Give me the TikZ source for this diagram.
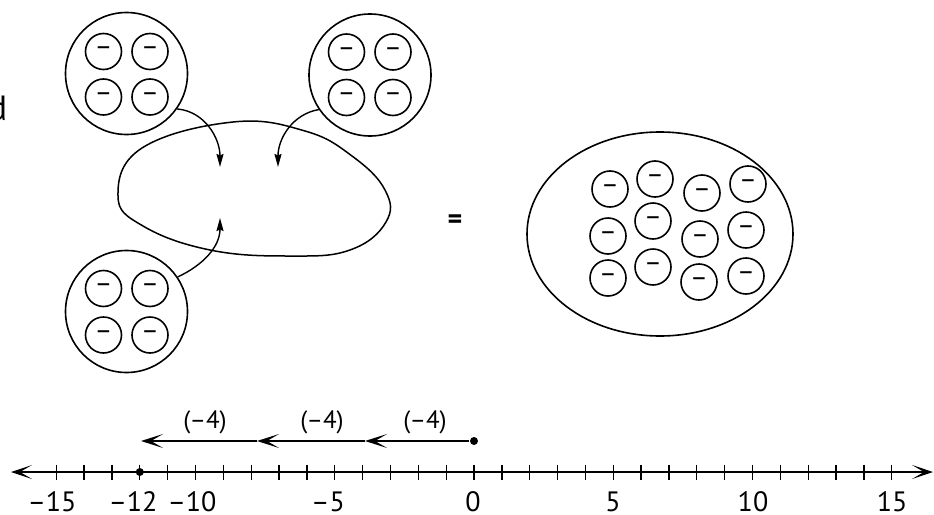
\documentclass[tikz,border=0pt]{standalone}
\usepackage{fontspec}
\setmainfont{PT Sans}
\usetikzlibrary{arrows.meta,shapes.geometric}
\begin{document}
\begin{tikzpicture}[x=1pt,y=-1pt,line width=1.6pt,
  group/.style={circle,draw,minimum size=122pt,inner sep=0pt},
  neg/.style={circle,draw,minimum size=36pt,inner sep=0pt,font=\fontsize{27}{27}\selectfont},
  carrow/.style={-{Stealth[length=13pt,width=7pt,inset=1.5pt]},line width=1.4pt},
  narrow/.style={-{Stealth[length=22pt,width=14pt,inset=12pt]},line width=1.8pt},
  nline/.style={{Stealth[length=21pt,width=14pt,inset=12pt]}-{Stealth[length=21pt,width=14pt,inset=12pt]},line width=1.6pt},
  dot/.style={circle,fill,inner sep=0pt,minimum size=8pt},
  lab/.style={font=\fontsize{28}{28}\selectfont,anchor=base,inner sep=0pt},
  steplab/.style={font=\fontsize{25}{25}\selectfont,anchor=base,inner sep=0pt},
  tick/.style={line width=1.3pt}]
\useasboundingbox (0,0) rectangle (934,514);

% left cut-off letter
\node[font=\fontsize{35}{35}\selectfont,anchor=base east,inner sep=0pt] (d) at (8,120) {d};

% top-left group
\node[group] (tl) at (126.5,73.5) {};
\node[neg] (tla) at (103.5,51.5) {–};
\node[neg] (tlb) at (150,51.5) {–};
\node[neg] (tlc) at (103.5,97) {–};
\node[neg] (tld) at (150,97) {–};

% top-right group
\node[group] (tr) at (370,75) {};
\node[neg] (tra) at (346.5,52) {–};
\node[neg] (trb) at (393,52) {–};
\node[neg] (trc) at (346.5,97.5) {–};
\node[neg] (trd) at (393,97.5) {–};

% bottom-left group
\node[group] (bl) at (126.5,311.5) {};
\node[neg] (bla) at (103.5,288.5) {–};
\node[neg] (blb) at (150,288.5) {–};
\node[neg] (blc) at (103.5,335) {–};
\node[neg] (bld) at (150,335) {–};

% blob
\draw[line width=1.5pt] plot[smooth cycle,tension=0.7] coordinates
 {(118,196) (142,148) (233,122) (305,131) (352,156) (385,190) (386,222) (350,250) (290,256) (210,250) (143,226)};

% curved arrows
\coordinate (t1) at (220,167);
\coordinate (t2) at (278,167);
\coordinate (t3) at (220,218);
\draw[carrow] (tl.-35) to[out=-5,in=90] (t1);
\draw[carrow] (tr.214) to[out=190,in=90] (t2);
\draw[carrow] (bl.34) to[out=25,in=-90] (t3);

% equals
\node[font=\fontsize{28}{28}\selectfont\bfseries] (eq) at (455,222) {=};

% big ellipse
\node[ellipse,draw,minimum width=266pt,minimum height=204pt,inner sep=0pt] (big) at (660,234) {};
\node[neg] (e1) at (610,189) {–};
\node[neg] (e2) at (655,179) {–};
\node[neg] (e3) at (702,193) {–};
\node[neg] (e4) at (748,184) {–};
\node[neg] (e5) at (608,236) {–};
\node[neg] (e6) at (653,221) {–};
\node[neg] (e7) at (700,239) {–};
\node[neg] (e8) at (746,230) {–};
\node[neg] (e9) at (608,278) {–};
\node[neg] (e10) at (653,267) {–};
\node[neg] (e11) at (699,282) {–};
\node[neg] (e12) at (746,276) {–};

% number line
\coordinate (L) at (11,472);
\coordinate (R) at (933,472);
\draw[nline] (L) -- (R);
\foreach \i in {-15,...,15} {
  \draw[tick] ({474+27.85*\i},464.5) -- ++(0,15);
}
\node[dot] (m12) at (139.8,472) {};
\node[dot] (z) at (474,441) {};
\coordinate (s1) at (365,441);
\coordinate (s2) at (257,441);
\coordinate (s3) at (141,441);
\draw[narrow] (z) -- (s1);
\draw[narrow] (s1) -- (s2);
\draw[narrow] (s2) -- (s3);
\node[steplab] (l1) at (425,428) {(–4)};
\node[steplab] (l2) at (322,428) {(–4)};
\node[steplab] (l3) at (205,428) {(–4)};

% tick labels
\node[lab] (n15) at (52,511.5) {–15};
\node[lab] (n12) at (133,511.5) {–12};
\node[lab] (n10) at (192,511.5) {–10};
\node[lab] (n5) at (328,511.5) {–5};
\node[lab] (n0) at (473,511.5) {0};
\node[lab] (p5) at (613,511.5) {5};
\node[lab] (p10) at (753,511.5) {10};
\node[lab] (p15) at (892,511.5) {15};
\end{tikzpicture}
\end{document}
